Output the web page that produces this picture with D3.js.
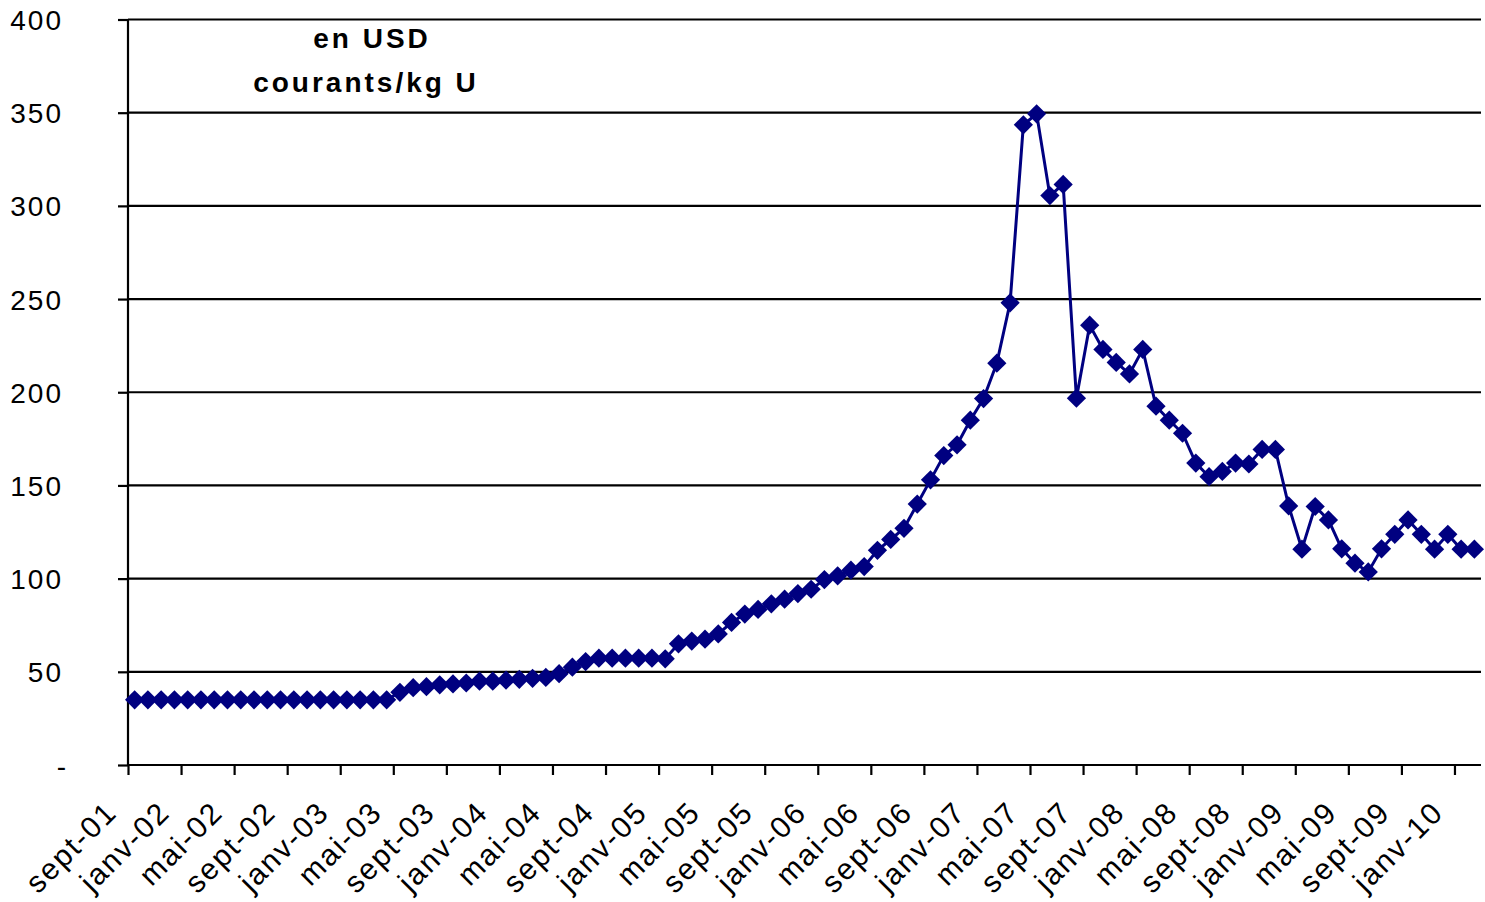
<!DOCTYPE html>
<html>
<head>
<meta charset="utf-8">
<title>Prix uranium</title>
<script src="https://cdn.jsdelivr.net/npm/d3@7/dist/d3.min.js"></script>
<style>
  body { margin: 0; background: #fff; }
  text { font-family: "Liberation Sans", Arial, sans-serif; fill: #000; }
</style>
</head>
<body>
<div id="chart"></div>
<script>

    // monthly values, sept-01 .. fevr-10 (102 months)
    var values = [
        35, 35, 35, 35, 35, 35, 35, 35, 35, 35,
        35, 35, 35, 35, 35, 35, 35, 35, 35, 35,
        39, 41.5, 42, 43, 43.5, 44, 45, 45, 45.5, 46,
        46.5, 47, 49, 52.5, 55.5, 57.3, 57.3, 57.3, 57.3, 57.3,
        57, 65, 66.5, 67.5, 70.3, 76.5, 81, 83.5, 86.5, 89,
        92, 94.3, 99.5, 101.5, 104.5, 106.5, 115.2, 121, 127, 140,
        153, 166, 171.8, 185, 196.6, 215.6, 248, 343.5, 349.4, 305.5,
        311.5, 196.8, 236, 223, 216, 209.8, 223, 192.5, 185, 178,
        162, 154.7, 157.5, 162, 161.5, 169.3, 169.3, 139, 115.8, 138.7,
        131.5, 116, 108.3, 103.6, 116, 123.8, 131.5, 123.8, 115.8, 123.8,
        115.8, 115.8
    ];

    // one label every 4 months
    var tickLabels = [
        "sept-01", "janv-02", "mai-02", "sept-02", "janv-03", "mai-03", "sept-03",
        "janv-04", "mai-04", "sept-04", "janv-05", "mai-05", "sept-05", "janv-06",
        "mai-06", "sept-06", "janv-07", "mai-07", "sept-07", "janv-08", "mai-08",
        "sept-08", "janv-09", "mai-09", "sept-09", "janv-10"
    ];

    var yTicks = [0, 50, 100, 150, 200, 250, 300, 350, 400];
    var titleLines = ["en USD", "courants/kg U"];

    var width = 1485, height = 902;
    var plotLeft = 128, plotRight = 1481, plotTop = 19.5, plotBottom = 765;

    var svg = d3.select("#chart").append("svg")
        .attr("width", width)
        .attr("height", height);

    var x = d3.scaleLinear().domain([0, values.length]).range([plotLeft, plotRight]);
    var y = d3.scaleLinear().domain([0, 400]).range([plotBottom, plotTop]);

    // horizontal grid lines
    svg.append("g")
        .selectAll("line")
        .data(yTicks.slice(1))
        .enter().append("line")
            .attr("x1", plotLeft)
            .attr("x2", plotRight)
            .attr("y1", function(d) { return y(d); })
            .attr("y2", function(d) { return y(d); })
            .attr("stroke", "#000")
            .attr("stroke-width", 2.2);

    // y axis
    var yAxis = d3.axisLeft(y)
        .tickValues(yTicks)
        .tickSize(10)
        .tickPadding(55)
        .tickFormat(function(d) { return d === 0 ? "-" : d; });

    var gy = svg.append("g")
        .attr("transform", "translate(" + plotLeft + ",0)")
        .call(yAxis);
    gy.select(".domain").attr("stroke", "#000").attr("stroke-width", 2.2)
        .attr("d", "M0," + plotBottom + "V" + plotTop);
    gy.selectAll(".tick line").attr("stroke", "#000").attr("stroke-width", 2.2);
    gy.selectAll(".tick text")
        .attr("font-size", 28)
        .attr("letter-spacing", "2px")
        .attr("dy", "0.36em")
        .attr("font-family", "Liberation Sans, Arial, sans-serif");
    gy.selectAll(".tick text").filter(function(d) { return d === 0; })
        .attr("x", -60);

    // x axis
    var xTicks = tickLabels.map(function(t, i) { return i * 4; });
    var xAxis = d3.axisBottom(x)
        .tickValues(xTicks)
        .tickSize(10)
        .tickFormat("");

    var gx = svg.append("g")
        .attr("transform", "translate(0," + plotBottom + ")")
        .call(xAxis);
    gx.select(".domain").attr("stroke", "#000").attr("stroke-width", 2.2)
        .attr("d", "M" + plotLeft + ",0H" + plotRight);
    gx.selectAll(".tick line").attr("stroke", "#000").attr("stroke-width", 2.2);

    svg.append("g")
        .selectAll("text")
        .data(tickLabels)
        .enter().append("text")
            .attr("transform", function(d, i) {
                return "translate(" + (x(i * 4 + 0.5) - 16) + ",814) rotate(-45)";
            })
            .attr("text-anchor", "end")
            .attr("font-size", 30)
            .attr("letter-spacing", "2px")
            .text(function(d) { return d; });

    // series
    var line = d3.line()
        .x(function(d, i) { return x(i + 0.5); })
        .y(function(d) { return y(d); });

    svg.append("path")
        .datum(values)
        .attr("d", line)
        .attr("fill", "none")
        .attr("stroke", "#000080")
        .attr("stroke-width", 3);

    var diamond = d3.symbol().type(d3.symbolSquare).size(185);

    svg.append("g")
        .selectAll("path")
        .data(values)
        .enter().append("path")
            .attr("d", diamond)
            .attr("transform", function(d, i) {
                return "translate(" + x(i + 0.5) + "," + y(d) + ") rotate(45)";
            })
            .attr("fill", "#000080");

    // unit label
    svg.append("g")
        .selectAll("text")
        .data(titleLines)
        .enter().append("text")
            .attr("x", function(d, i) { return i === 0 ? 372 : 366; })
            .attr("y", function(d, i) { return 48 + i * 44; })
            .attr("text-anchor", "middle")
            .attr("font-size", 28)
            .attr("font-weight", "bold")
            .attr("letter-spacing", "3px")
            .text(function(d) { return d; });

</script>
</body>
</html>
